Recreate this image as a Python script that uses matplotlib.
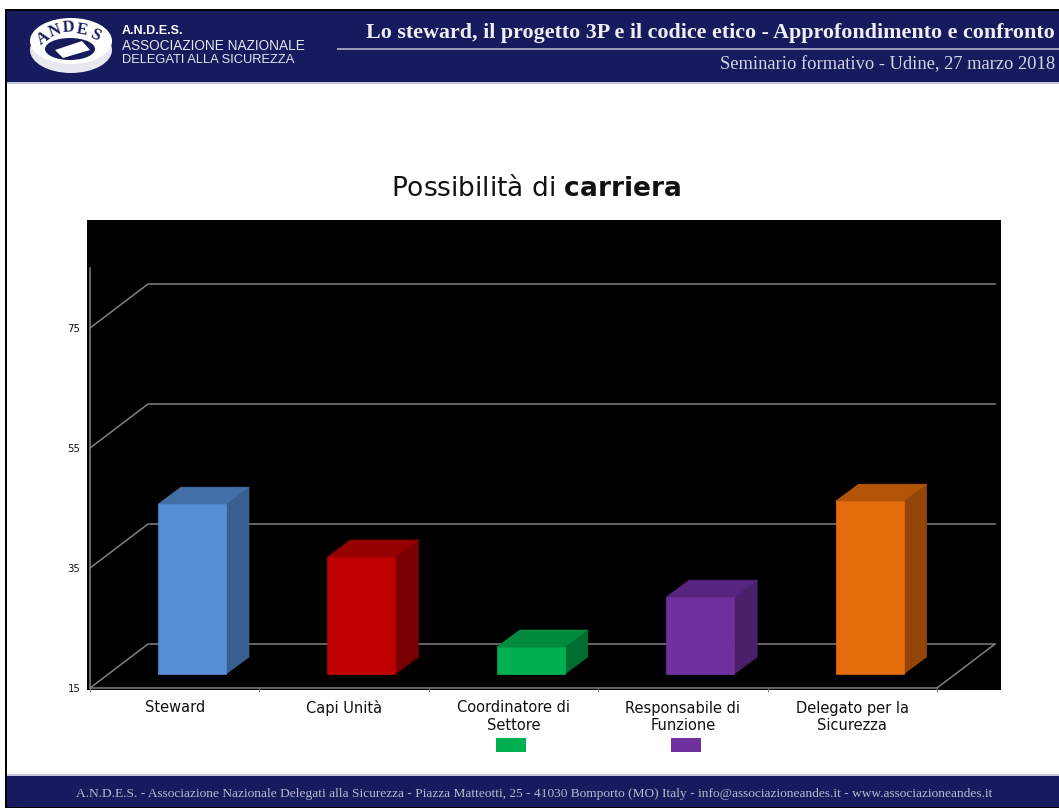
import matplotlib
matplotlib.use('Agg')
from matplotlib import pyplot as plt
from matplotlib.patches import Rectangle, Ellipse, Polygon

categories = ['Steward', 'Capi Unità', 'Coordinatore di\nSettore',
              'Responsabile di\nFunzione', 'Delegato per la\nSicurezza']
values = [43.3, 34.5, 19.5, 27.8, 43.8]
front_colors = ['#558ed5', '#c00000', '#00b050', '#7030a0', '#e46c0a']
top_colors = ['#416fa6', '#960000', '#008a3e', '#572580', '#b25508']
side_colors = ['#38608f', '#780000', '#006e30', '#4a2069', '#93460a']
y_ticks = [15, 35, 55, 75]

W, H = 1059, 809
NAVY = '#171a5c'
GREY = '#808080'
plt.rcParams['mathtext.fontset'] = 'dejavusans'
fig = plt.figure(figsize=(W/100, H/100), dpi=100, facecolor='white')

# slide furniture, in pixels
bg = fig.add_axes([0, 0, 1, 1], zorder=0)
bg.set_xlim(0, W)
bg.set_ylim(H, 0)
bg.axis('off')
bg.add_patch(Rectangle((5, 9), W-5, H-9-1, fc='black', ec='none'))
bg.add_patch(Rectangle((7, 11), W-7, H-11-2, fc='white', ec='none'))
bg.add_patch(Rectangle((7, 11), W-7, 71, fc=NAVY, ec='none'))
bg.add_patch(Rectangle((7, 82), W-7, 2, fc='#c5c6d8', ec='none'))
bg.add_patch(Rectangle((7, 775), W-7, 32, fc=NAVY, ec='none'))
bg.add_patch(Rectangle((7, 774), W-7, 2, fc='#c5c6d8', ec='none'))
bg.add_patch(Rectangle((337, 48), W-337, 2, fc='#9a9cbc', ec='none'))
bg.add_patch(Rectangle((87, 220), 914, 470, fc='black', ec='none'))

# logo
bg.add_patch(Ellipse((71, 50), 82, 46, fc='#e8e8f0', ec='none'))
bg.add_patch(Ellipse((71, 41), 82, 46, fc='white', ec='none'))
bg.add_patch(Ellipse((70, 49), 50, 22, fc=NAVY, ec='none'))
bg.add_patch(Polygon([(55, 50), (82, 41), (90, 50), (63, 58)], fc='white', ec='none'))
for ch, x, y, r in [('A', 43, 38, 35), ('N', 55, 31, 20), ('D', 68, 28, 4),
                    ('E', 82, 30, -10), ('S', 95, 35, -25)]:
    bg.text(x, y, ch, color=NAVY, fontsize=12, fontweight='bold', family='Liberation Serif',
            rotation=r, ha='center', va='center')

bg.text(122, 31, 'A.N.D.E.S.', color='white', fontsize=9, fontweight='bold',
        family='Liberation Sans', va='center')
bg.text(122, 46, 'ASSOCIAZIONE NAZIONALE', color='#e6e6ee', fontsize=9.8,
        family='Liberation Sans', va='center')
bg.text(122, 60, 'DELEGATI ALLA SICUREZZA', color='#e6e6ee', fontsize=9.25,
        family='Liberation Sans', va='center')
bg.text(1055, 33, 'Lo steward, il progetto 3P e il codice etico - Approfondimento e confronto',
        color='#eeeef4', fontsize=15.8, fontweight='bold', family='Liberation Serif',
        ha='right', va='center')
bg.text(1055, 65, 'Seminario formativo - Udine, 27 marzo 2018', color='#d4d5e2', fontsize=13.3,
        family='Liberation Serif', ha='right', va='center')
bg.text(534, 794, 'A.N.D.E.S. - Associazione Nazionale Delegati alla Sicurezza - Piazza Matteotti, 25 - 41030 '
        'Bomporto (MO) Italy - info@associazioneandes.it - www.associazioneandes.it',
        color='#b8b9d0', fontsize=9.6, family='Liberation Serif', ha='center', va='center')

bg.text(536, 189, 'Possibilità di $\\mathbf{carriera}$', color='#111111', fontsize=19,
        ha='center', va='center')

# chart: the axes box is the front plane of the 3D frame
ax = fig.add_axes([90/W, 1-688/H, 847/W, 420/H], zorder=1)
ax.patch.set_alpha(0)
ax.set_xlim(0, len(categories))
ax.set_ylim(15, 85)
for s in ['top', 'right']:
    ax.spines[s].set_visible(False)
for s in ['left', 'bottom']:
    ax.spines[s].set_color(GREY)
    ax.spines[s].set_linewidth(1.1)
ax.set_yticks(y_ticks)
ax.set_xticks(range(len(categories)+1))
ax.set_xticklabels([])
ax.set_xticks([i+0.5 for i in range(len(categories))], minor=True)
ax.set_xticklabels(categories, minor=True, fontsize=10.5, color='#111111', linespacing=1.2)
ax.tick_params(axis='y', length=0, labelsize=7.3, pad=7, labelcolor='#111111')
ax.tick_params(axis='x', which='major', length=3, color=GREY)
ax.tick_params(axis='x', which='minor', length=0, pad=9)

# depth of the frame and of the bars in data units
DX, DY = 58/169.4, 44/6
BAR_W, BAR_DX, BAR_DY = 68/169.4, 23/169.4, 17/6
X0, Y0 = 68/169.4, 14/6

for t in y_ticks:
    ax.plot([0, DX, 5+DX], [t, t+DY, t+DY], color=GREY, lw=1.1, clip_on=False, zorder=1)
ax.plot([5, 5+DX], [15, 15+DY], color=GREY, lw=1.1, clip_on=False, zorder=1)

for i, v in enumerate(values):
    l, r = i+X0, i+X0+BAR_W
    b, t = 15+Y0, v+Y0
    ax.add_patch(Polygon([(r, b), (r+BAR_DX, b+BAR_DY), (r+BAR_DX, t+BAR_DY), (r, t)],
                         fc=side_colors[i], ec=side_colors[i], lw=0.5, clip_on=False, zorder=3))
    ax.add_patch(Polygon([(l, t), (l+BAR_DX, t+BAR_DY), (r+BAR_DX, t+BAR_DY), (r, t)],
                         fc=top_colors[i], ec=top_colors[i], lw=0.5, clip_on=False, zorder=3))
    ax.add_patch(Rectangle((l, b), BAR_W, t-b, fc=front_colors[i], ec=front_colors[i], lw=0.5,
                           clip_on=False, zorder=4))

# leftover legend swatches
bg.add_patch(Rectangle((496, 738), 30, 14, fc=front_colors[2], ec='none'))
bg.add_patch(Rectangle((671, 738), 30, 14, fc=front_colors[3], ec='none'))

fig.savefig('out.png', dpi=100)
